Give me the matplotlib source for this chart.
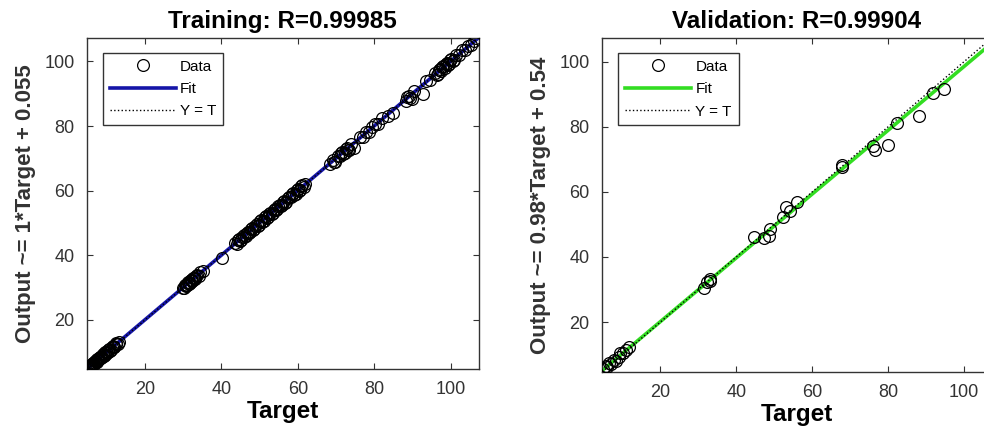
import matplotlib
matplotlib.use("Agg")
import matplotlib.pyplot as plt
from matplotlib.lines import Line2D

plt.rcParams['font.family'] = ['Liberation Sans', 'DejaVu Sans']

# training targets / outputs
train_target = [5.0, 5.1, 5.2, 5.3, 5.4, 5.5, 5.6, 5.7, 5.8, 5.9, 6.0, 6.1, 6.2, 6.4, 6.5,
                6.7, 6.8, 7.0, 7.1, 7.3, 7.5, 7.6, 7.8, 8.0, 8.2, 8.3, 8.5, 8.7, 8.9, 9.0,
                9.2, 9.4, 9.6, 9.8, 10.0, 10.2, 10.4, 10.6, 10.8, 11.0, 11.3, 11.5, 11.8,
                12.0, 12.3, 12.5, 12.8, 13.2,
                30.0, 30.2, 30.4, 30.6, 30.8, 31.0, 31.2, 31.3, 31.5, 31.7, 31.9, 32.0,
                32.2, 32.4, 32.6, 32.8, 33.0, 33.2, 33.4, 33.6, 34.0, 34.5, 35.2,
                40.1, 43.5, 44.0, 44.3, 44.6, 44.9, 45.2, 45.5, 45.8, 46.0, 46.3, 46.6,
                46.9, 47.2, 47.5, 47.8, 48.0, 48.3, 48.6, 48.9, 49.2, 49.5, 49.8,
                50.1, 50.4, 50.7, 51.0, 51.3, 51.6, 51.9, 52.2, 52.5, 52.8, 53.1, 53.4,
                53.7, 54.0, 54.3, 54.6, 54.9, 55.2, 55.5, 55.8, 56.1, 56.4, 56.7, 57.0,
                57.3, 57.6, 58.2, 58.5, 58.8, 59.1, 59.4, 59.7, 60.0, 60.3, 60.6, 60.9,
                61.2, 61.5, 61.8,
                68.5, 69.2, 69.5, 69.8, 70.4, 71.0, 71.3, 71.6, 71.9, 72.2, 72.5, 72.8,
                73.1, 73.4, 74.0, 74.6,
                76.2, 77.0, 77.8, 78.6, 79.4, 80.2, 81.0, 82.0, 83.5, 85.0,
                88.2, 88.6, 89.0, 89.4, 89.8, 90.5, 92.7, 93.5, 94.5,
                96.0, 96.3, 96.6, 96.9, 97.2, 97.5, 97.8, 98.1, 98.4, 98.7, 99.0, 99.3,
                99.6, 99.9, 100.2, 100.5, 100.8,
                101.5, 102.2, 103.0, 103.8, 104.6, 105.3, 106.0, 106.6]
train_output = [5.1, 5.0, 5.4, 5.2, 5.6, 5.3, 5.8, 5.5, 5.6, 6.1, 6.3, 5.9, 6.0, 6.6, 6.7,
                6.4, 6.6, 7.3, 6.9, 7.1, 7.8, 7.9, 7.6, 7.8, 8.5, 8.6, 8.2, 8.5, 9.2, 9.3,
                8.9, 9.1, 9.9, 10.1, 9.7, 9.9, 10.7, 10.9, 10.5, 10.7, 11.6, 11.8, 11.5,
                11.7, 12.6, 12.8, 12.4, 13.0,
                29.9, 30.0, 30.7, 30.9, 30.4, 30.7, 31.5, 31.6, 31.2, 31.4, 32.2, 32.3,
                31.9, 32.1, 32.9, 33.1, 32.7, 32.9, 33.7, 33.9, 33.7, 34.8, 35.0,
                39.2, 43.9, 43.6, 44.6, 45.0, 44.5, 44.8, 45.8, 46.2, 45.7, 45.9, 47.0,
                47.3, 46.8, 47.1, 48.1, 48.4, 47.9, 48.0, 49.2, 49.6, 49.1, 49.5,
                50.5, 50.8, 50.3, 50.7, 51.7, 52.0, 51.5, 51.8, 52.9, 53.2, 52.7, 53.0,
                54.1, 54.4, 53.9, 54.2, 55.3, 55.6, 55.1, 55.5, 56.5, 56.8, 56.3, 56.6,
                57.7, 58.0, 57.9, 58.9, 59.2, 58.7, 59.0, 60.1, 60.4, 59.9, 60.2, 61.3,
                61.6, 61.1, 62.1,
                68.2, 69.6, 68.8, 68.9, 70.8, 70.6, 71.7, 72.0, 71.4, 71.8, 72.9, 73.2,
                72.6, 72.6, 74.3, 73.2,
                76.6, 76.7, 78.2, 78.3, 79.8, 80.5, 80.6, 82.4, 83.2, 83.9,
                87.6, 89.0, 89.4, 88.8, 88.5, 90.9, 89.8, 93.9, 94.2,
                96.5, 95.9, 96.2, 97.3, 97.7, 97.1, 98.2, 98.6, 98.0, 99.1, 99.4, 98.9,
                99.3, 100.4, 100.6, 100.1, 100.5,
                101.9, 101.9, 103.4, 103.5, 104.9, 105.0, 106.3, 107.4]

# validation targets / outputs
val_target = [5.0, 5.6, 6.0, 6.5, 7.0, 7.7, 8.3, 9.0, 9.5, 10.3, 11.0, 11.7,
              31.4, 32.3, 33.2, 33.0,
              44.6, 47.2, 48.5, 48.9, 52.3, 53.2, 54.2, 56.0,
              67.8, 67.8, 76.0, 76.6, 79.9, 82.3, 88.0, 91.9, 94.6]
val_output = [5.7, 6.6, 6.2, 7.3, 7.0, 8.4, 8.0, 9.4, 10.4, 10.6, 11.5, 12.5,
              30.6, 32.3, 33.3, 32.5,
              46.1, 45.9, 46.6, 48.6, 52.4, 55.4, 54.0, 56.9,
              68.4, 67.7, 74.0, 72.9, 74.5, 81.2, 83.4, 90.3, 91.7]

train_fit = (1.0, 0.055)
val_fit = (0.98, 0.54)
lims_train = (4.8, 107.3)
lims_val = (4.7, 107.3)

ticks = [20, 40, 60, 80, 100]

fig = plt.figure(figsize=(9.84, 4.30), dpi=100)
ax1 = fig.add_axes([0.0884, 0.142, 0.398, 0.770])
ax2 = fig.add_axes([0.612, 0.135, 0.396, 0.777])


def draw_panel(ax, tx, ty, fit, lims, fit_color, title, ylabel):
    xs = [lims[0], lims[1]]
    ax.plot(tx, ty, 'o', mfc='none', mec='black', ms=8.5, mew=0.9, zorder=3)
    ax.plot(xs, [fit[0] * v + fit[1] for v in xs], '-', color=fit_color, lw=2.6, zorder=2)
    ax.plot(xs, xs, ':', color='black', lw=1.0, zorder=4)
    ax.set_xlim(*lims)
    ax.set_ylim(*lims)
    ax.set_xticks(ticks)
    ax.set_yticks(ticks)
    ax.tick_params(direction='in', length=4, width=0.8, top=True, right=True,
                   labelsize=13, labelcolor='#333333', color='#333333', pad=9)
    for s in ax.spines.values():
        s.set_color('#333333')
        s.set_linewidth(1.0)
    ax.set_title(title, fontsize=17.5, fontweight='bold', pad=7)
    ax.set_xlabel('Target', fontsize=17.5, fontweight='bold', labelpad=1)
    ax.set_ylabel(ylabel, fontsize=16, fontweight='bold', labelpad=6, color='#333333')
    handles = [
        Line2D([], [], ls='none', marker='o', mfc='none', mec='black', ms=8.5, mew=0.9),
        Line2D([], [], color=fit_color, lw=2.6),
        Line2D([], [], color='black', ls=':', lw=1.0),
    ]
    leg = ax.legend(handles, ['Data', 'Fit', 'Y = T'], loc='upper left', fontsize=11,
                    handlelength=4.3, handletextpad=0.3, labelspacing=0.55,
                    borderpad=0.45, borderaxespad=0, fancybox=False, framealpha=1,
                    edgecolor='#333333', bbox_to_anchor=(0.041, 0.955))
    leg.get_frame().set_linewidth(1.0)


draw_panel(ax1, train_target, train_output, train_fit, lims_train, '#1515a8',
           'Training: R=0.99985', 'Output ~= 1*Target + 0.055')
draw_panel(ax2, val_target, val_output, val_fit, lims_val, '#33dd22',
           'Validation: R=0.99904', 'Output ~= 0.98*Target + 0.54')

fig.savefig('out.png', dpi=100)
